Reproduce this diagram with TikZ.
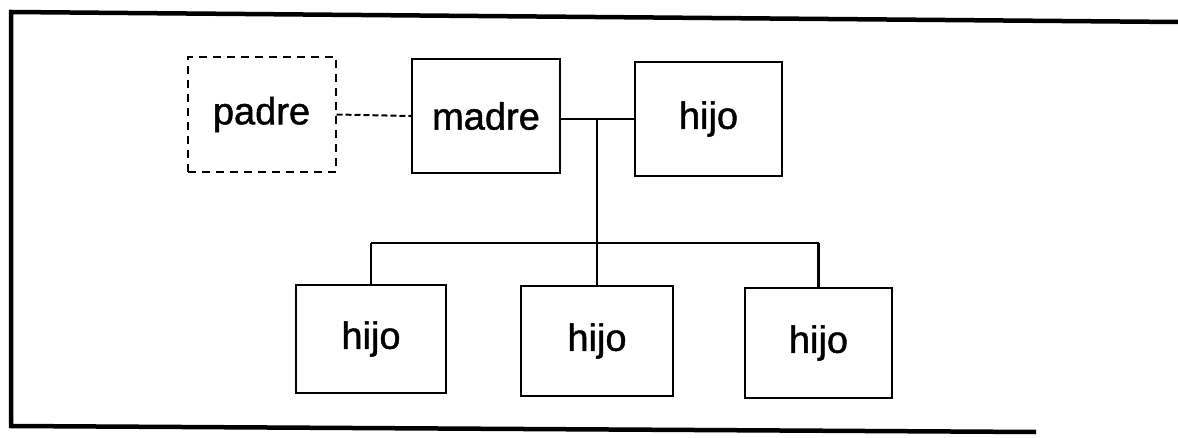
\documentclass[tikz,border=0pt]{standalone}
\usepackage{fontspec}
\setmainfont{Liberation Sans}
\newfontfamily\labelfont[FakeBold=1.2]{Liberation Sans}
\begin{document}
\begin{tikzpicture}[x=1pt,y=-1pt,
  famlabel/.style={font=\labelfont\fontsize{38}{44}\selectfont},
  member/.style={draw, line width=2.3pt, rectangle, inner sep=0pt,
    minimum width=148pt, minimum height=112pt, famlabel},
  absent/.style={member, line width=2pt, dash pattern=on 8pt off 6pt},
  link/.style={line width=2.2pt},
  weaklink/.style={line width=2pt, dash pattern=on 6pt off 3pt},
  frameline/.style={line width=4.5pt}]
  \useasboundingbox (0,0) rectangle (1178,438);

  % outer frame, open on the right
  \coordinate (f1) at (1178,22);
  \coordinate (f2) at (11,12);
  \coordinate (f3) at (11,426);
  \coordinate (f4) at (1036,432);
  \draw[frameline, line join=miter] (f1) -- (f2) -- (f3) -- (f4);

  % parents
  \node[absent, minimum height=115pt] (padre) at (261.5,114.5) {padre};
  \node[member, minimum height=114pt] (madre) at (486,116) {madre};

  % children
  \node[member, minimum width=147pt, minimum height=114pt] (h0) at (708.5,119) {hijo};
  \node[member, minimum width=150pt, minimum height=108pt] (h1) at (371,339) {hijo};
  \node[member, minimum width=152pt, minimum height=110pt] (h2) at (597,341) {hijo};
  \node[member, minimum width=147pt, minimum height=110pt] (h3) at (818.5,343) {hijo};

  % junctions
  \coordinate (j1) at (597,119);
  \coordinate (j2) at (597,243);

  % connectors
  \draw[weaklink] (padre.east) -- (madre.west);
  \draw[link] (h0.west -| madre.east) -- (h0.west);
  \draw[link] (j1) -- (h2.north);
  \draw[link] (h1.north |- j2) -- (h3.north |- j2);
  \draw[link] (h1.north |- j2) -- (h1.north);
  \draw[link] (h3.north |- j2) -- (h3.north);
\end{tikzpicture}
\end{document}
